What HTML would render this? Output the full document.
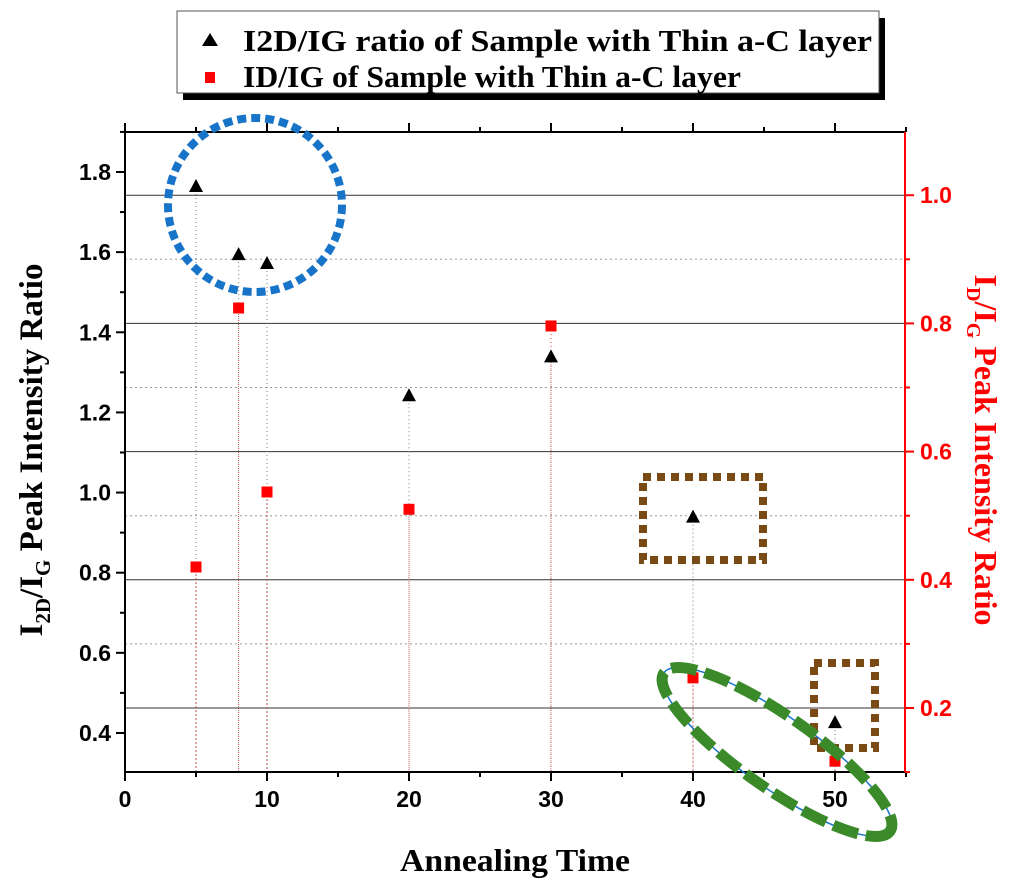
<!DOCTYPE html>
<html><head><meta charset="utf-8"><style>
body{margin:0;background:#fff}
svg text{font-family:"Liberation Sans",sans-serif}
.serif{font-family:"Liberation Serif",serif;font-weight:bold}
</style></head><body>
<svg id="chart" width="1024" height="889" viewBox="0 0 1024 889" xmlns="http://www.w3.org/2000/svg">
<g id="grid"></g>
<g id="drops"></g>
<g id="axes"></g>
<g id="marks"></g>
<circle cx="255" cy="205" r="87" fill="none" stroke="#1874c8" stroke-width="8" stroke-dasharray="9 5"/>
<rect x="643" y="477" width="120" height="83" fill="none" stroke="#7a4a14" stroke-width="8" stroke-dasharray="8 6"/>
<rect x="814" y="663" width="61" height="85" fill="none" stroke="#7a4a14" stroke-width="8" stroke-dasharray="8 6"/>
<g transform="translate(777,752) rotate(35)">
<ellipse rx="138" ry="36" fill="none" stroke="#1874c8" stroke-width="1.5"/>
<ellipse rx="138" ry="36" fill="none" stroke="#3a8a2a" stroke-width="11" stroke-dasharray="26 8"/>
</g>
<g>
<rect x="183" y="18" width="702" height="82" fill="#000"/>
<rect x="177" y="11" width="702" height="82" fill="#fff" stroke="#555" stroke-width="1"/>
<polygon points="210,33 202,46 218,46" fill="#000"/>
<text class="serif" x="243" y="51" font-size="31" textLength="629" lengthAdjust="spacingAndGlyphs">I2D/IG ratio of Sample with Thin a-C layer</text>
<rect x="205" y="72" width="10" height="11" fill="#f00"/>
<text class="serif" x="243" y="87" font-size="31" textLength="498" lengthAdjust="spacingAndGlyphs">ID/IG of Sample with Thin a-C layer</text>
</g>
<text class="serif" x="515" y="871" font-size="32" text-anchor="middle" textLength="230" lengthAdjust="spacingAndGlyphs">Annealing Time</text>
<text class="serif" font-size="33" text-anchor="middle" transform="translate(42,450) rotate(-90)">I<tspan font-size="21" dy="8">2D</tspan><tspan dy="-8">/I</tspan><tspan font-size="21" dy="8">G</tspan><tspan dy="-8"> Peak Intensity Ratio</tspan></text>
<text class="serif" font-size="32" fill="#f00" text-anchor="middle" transform="translate(975,450) rotate(90)">I<tspan font-size="20" dy="8">D</tspan><tspan dy="-8">/I</tspan><tspan font-size="20" dy="8">G</tspan><tspan dy="-8"> Peak Intensity Ratio</tspan></text>
</svg>
<script>
const times=[5,8,10,20,30,40,50];
const ratio2D=[1.765,1.595,1.573,1.243,1.34,0.94,0.427];
const ratioD=[0.42,0.824,0.537,0.51,0.796,0.247,0.117];
const xTicks=[0,10,20,30,40,50];
const leftTicks=[0.4,0.6,0.8,1.0,1.2,1.4,1.6,1.8];
const rightTicks=[0.2,0.4,0.6,0.8,1.0];
const L=125,R=905,T=132,B=772;
const X=v=>L+v*14.2;
const YL=v=>172+(1.8-v)*400.7;
const YR=v=>708-(v-0.2)*641;
const NS='http://www.w3.org/2000/svg';
function mk(p,tag,a){const e=document.createElementNS(NS,tag);for(const k in a)e.setAttribute(k,a[k]);document.getElementById(p).appendChild(e);return e;}
for(let v=0.2;v<=1.05;v+=0.1){const y=YR(v);const major=Math.round(v*10)%2===0;
const g=mk('grid','line',{x1:L,x2:R,y1:y,y2:y,stroke:major?'#333':'#999','stroke-width':1,'stroke-dasharray':major?'':'2 3'});

}
const ax=[[L,T,L,B,'#000'],[L,B,R,B,'#000'],[L,T,R,T,'#000'],[R,T,R,B,'#f00']];
ax.forEach(a=>{const e=mk('axes','line',{x1:a[0],y1:a[1],x2:a[2],y2:a[3],stroke:a[4],'stroke-width':2});

});
for(let v=0;v<=55;v+=5){const x=X(v);const mj=v%10===0;
mk('axes','line',{x1:x,x2:x,y1:B,y2:B+(mj?9:5),stroke:'#000','stroke-width':2});
mk('axes','line',{x1:x,x2:x,y1:T,y2:T-(mj?9:5),stroke:'#000','stroke-width':2});}
xTicks.forEach(v=>{const t=mk('axes','text',{x:X(v),y:B+35,'font-size':23,'font-weight':'bold','text-anchor':'middle'});t.textContent=v;

});
for(let v=0.4;v<=1.91;v+=0.1){const y=YL(v);const mj=Math.round(v*10)%2===0;
mk('axes','line',{x1:L,x2:L-(mj?9:5),y1:y,y2:y,stroke:'#000','stroke-width':2});}
leftTicks.forEach(v=>{const t=mk('axes','text',{x:L-14,y:YL(v)+8,'font-size':23,'font-weight':'bold','text-anchor':'end'});t.textContent=v.toFixed(1);

});
for(let v=0.1;v<=1.05;v+=0.1){const y=YR(v);const mj=Math.round(v*10)%2===0;
mk('axes','line',{x1:R,x2:R+(mj?9:5),y1:y,y2:y,stroke:'#f00','stroke-width':2});}
rightTicks.forEach(v=>{const t=mk('axes','text',{x:R+15,y:YR(v)+8,'font-size':23,'font-weight':'bold',fill:'#f00'});t.textContent=v.toFixed(1);

});
times.forEach((t,i)=>{const x=X(t);
const d1=mk('drops','line',{x1:x,x2:x,y1:YL(ratio2D[i]),y2:B,stroke:'#777','stroke-width':1,'stroke-dasharray':'1 3'});


const d2=mk('drops','line',{x1:x,x2:x,y1:YR(ratioD[i]),y2:B,stroke:'#e33','stroke-width':1,'stroke-dasharray':'1 3'});


const y=YL(ratio2D[i]);
const p=mk('marks','polygon',{points:`${x},${y-7} ${x-7},${y+6} ${x+7},${y+6}`,fill:'#000'});


const yr=YR(ratioD[i]);
const s=mk('marks','rect',{x:x-5.5,y:yr-5.5,width:11,height:11,fill:'#f00'});

});
</script>
</body></html>
